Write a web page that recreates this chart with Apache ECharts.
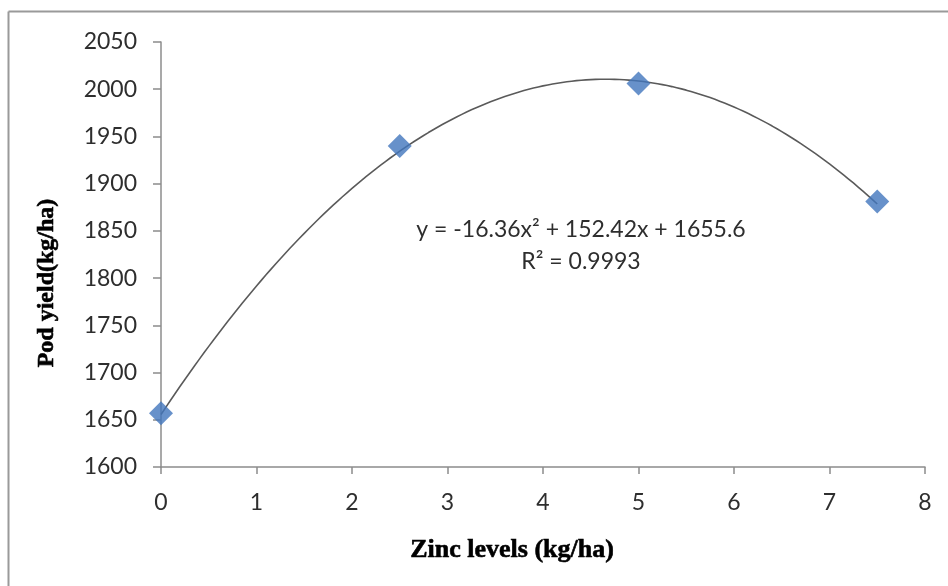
<!DOCTYPE html>
<html>
<head>
<meta charset="utf-8">
<title>Pod yield vs zinc levels</title>
<script src="https://cdn.jsdelivr.net/npm/echarts@6/dist/echarts.min.js"></script>
<style>
  html, body { margin: 0; padding: 0; background: #ffffff; }
  #chart { width: 948px; height: 586px; }
</style>
</head>
<body>
<div id="chart"></div>
<script>
// Observed pod yield at each zinc level
const zincLevels = [0, 2.5, 5, 7.5];
const podYield = [1657, 1940, 2006, 1881];

// Quadratic trend line coefficients (a·x² + b·x + c) and fit quality
const trendCoef = [-16.36, 152.42, 1655.6];
const rSquared = 0.9993;

// Axis ticks
const xTicks = [0, 1, 2, 3, 4, 5, 6, 7, 8];
const yTicks = [1600, 1650, 1700, 1750, 1800, 1850, 1900, 1950, 2000, 2050];

// Sample the fitted polynomial across the observed range
const trendPoints = [];
const xFirst = zincLevels[0], xLast = zincLevels[zincLevels.length - 1];
const steps = 150;
for (let i = 0; i <= steps; i++) {
  const x = xFirst + (xLast - xFirst) * i / steps;
  trendPoints.push([x, trendCoef[0] * x * x + trendCoef[1] * x + trendCoef[2]]);
}

const chart = echarts.init(document.getElementById('chart'), null, { renderer: 'canvas' });

const tickFont = 'Lato, "Open Sans", sans-serif';
const axisGray = '#8c8c8c';
const titleFont = '"Liberation Serif", "DejaVu Serif", serif';

chart.setOption({
  backgroundColor: '#ffffff',
  animation: false,
  grid: { left: 161, right: 23, top: 42, bottom: 119, containLabel: false },
  xAxis: {
    type: 'value',
    min: xTicks[0],
    max: xTicks[xTicks.length - 1],
    interval: 1,
    axisLine: { show: true, onZero: false, lineStyle: { color: axisGray, width: 1.5 } },
    axisTick: { show: true, length: 7, lineStyle: { color: axisGray, width: 1.5 } },
    axisLabel: { color: '#2e2e2e', fontFamily: tickFont, fontSize: 23, margin: 24,
      formatter: v => String(v) },
    splitLine: { show: false }
  },
  yAxis: {
    type: 'value',
    min: yTicks[0],
    max: yTicks[yTicks.length - 1],
    interval: 50,
    axisLine: { show: true, onZero: false, lineStyle: { color: axisGray, width: 1.5 } },
    axisTick: { show: true, length: 8, lineStyle: { color: axisGray, width: 1.5 } },
    axisLabel: { color: '#2e2e2e', fontFamily: tickFont, fontSize: 23, margin: 24,
      formatter: v => String(v) },
    splitLine: { show: false }
  },
  series: [
    {
      name: 'Trend',
      type: 'line',
      data: trendPoints,
      showSymbol: false,
      symbol: 'none',
      smooth: false,
      lineStyle: { color: '#5a5a5a', width: 1.6 },
      z: 2
    },
    {
      name: 'Pod yield',
      type: 'scatter',
      data: zincLevels.map((x, i) => [x, podYield[i]]),
      symbol: 'diamond',
      symbolSize: [24, 24],
      itemStyle: { color: '#4176bd' },
      z: 3
    }
  ],
  graphic: [
    // chart frame edges
    { type: 'line', shape: { x1: 8.5, y1: 11.5, x2: 948, y2: 11.5 }, style: { stroke: '#9a9a9a', lineWidth: 2 } },
    { type: 'line', shape: { x1: 8.5, y1: 11.5, x2: 8.5, y2: 586 }, style: { stroke: '#9a9a9a', lineWidth: 2 } },
    // trend equation
    {
      type: 'text', x: 581, y: 230,
      style: {
        text: 'y = ' + trendCoef[0] + 'x² + ' + trendCoef[1] + 'x + ' + trendCoef[2],
        fill: '#2e2e2e', font: '23px Lato, "Open Sans", sans-serif',
        align: 'center', verticalAlign: 'middle'
      }
    },
    {
      type: 'text', x: 581, y: 262,
      style: {
        text: 'R² = ' + rSquared,
        fill: '#2e2e2e', font: '23px Lato, "Open Sans", sans-serif',
        align: 'center', verticalAlign: 'middle'
      }
    },
    // axis titles
    {
      type: 'text', x: 512, y: 550,
      style: {
        text: 'Zinc levels (kg/ha)',
        fill: '#000000', font: 'bold 26px ' + titleFont,
        stroke: '#000000', lineWidth: 0.6,
        align: 'center', verticalAlign: 'middle'
      }
    },
    {
      type: 'text', x: 47, y: 283, rotation: Math.PI / 2,
      style: {
        text: 'Pod yield(kg/ha)',
        fill: '#000000', font: 'bold 24px ' + titleFont,
        stroke: '#000000', lineWidth: 0.6,
        align: 'center', verticalAlign: 'middle'
      }
    }
  ]
});
</script>
</body>
</html>
